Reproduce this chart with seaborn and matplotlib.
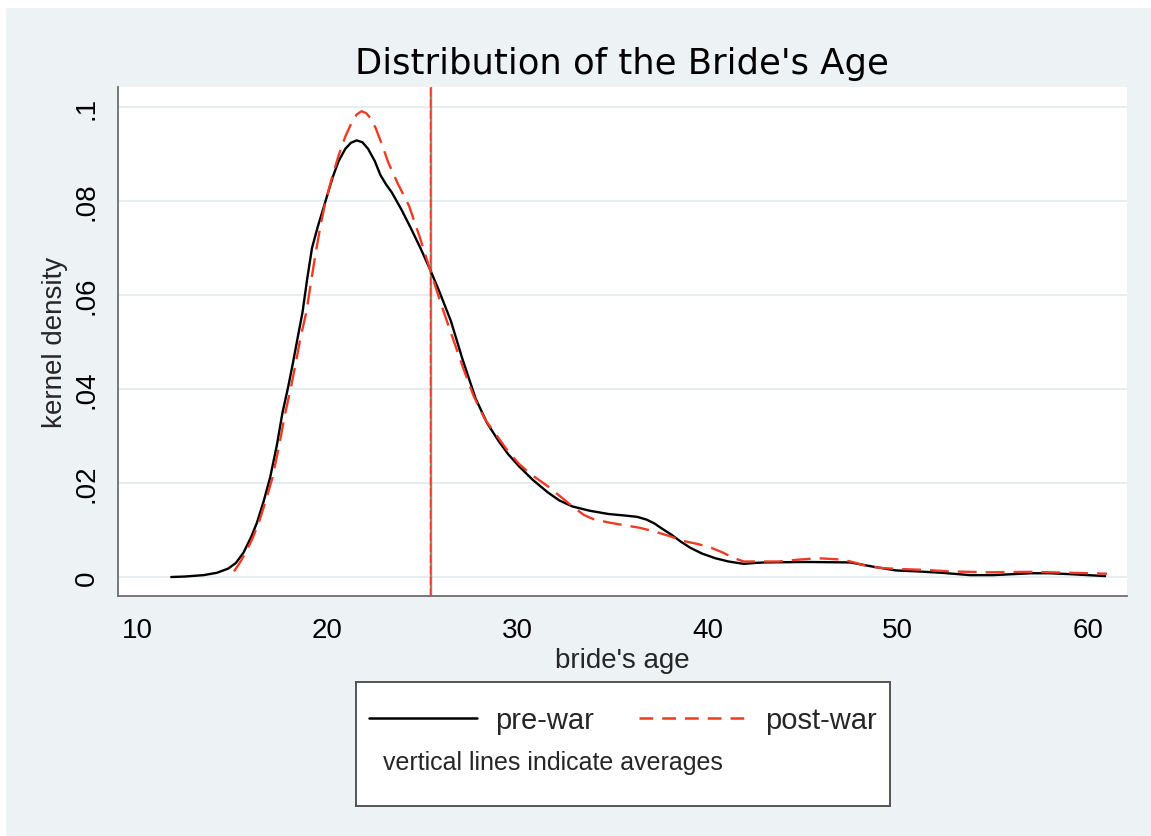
import matplotlib
matplotlib.use("Agg")
import matplotlib.pyplot as plt
from matplotlib.lines import Line2D
from matplotlib.patches import Rectangle
import pandas as pd
import seaborn as sns

# Kernel density of bride's age, pre-war cohort
pre_age = [11.8, 12.5, 13.5, 14.2, 14.8, 15.2, 15.6, 16.0, 16.3, 16.65, 17.0, 17.35,
           17.65, 17.95, 18.2, 18.45, 18.7, 18.95, 19.2, 19.5, 19.75, 20.0, 20.3, 20.6,
           20.95, 21.25, 21.55, 21.85, 22.15, 22.5, 22.8, 23.1, 23.4, 23.9, 24.4, 24.9,
           25.4, 25.9, 26.5, 27.1, 27.8, 28.4, 29.0, 29.5, 30.1, 30.8, 31.6, 32.2,
           32.9, 33.8, 34.8, 35.6, 36.3, 36.8, 37.2, 37.6, 38.1, 38.6, 39.1, 39.7,
           40.4, 41.1, 41.9, 42.5, 43.0, 45.2, 47.5, 48.7, 49.9, 51.0, 52.3, 53.8,
           55.0, 56.0, 57.0, 58.0, 59.1, 60.0, 60.9]
pre_density = [0.0, 0.0001, 0.0004, 0.0009, 0.0018, 0.003, 0.0052, 0.0085, 0.0115,
               0.016, 0.0212, 0.028, 0.035, 0.0405, 0.0456, 0.051, 0.0563, 0.0635,
               0.07, 0.0745, 0.0778, 0.0812, 0.0852, 0.0885, 0.0911, 0.0924, 0.0929,
               0.0925, 0.0911, 0.0885, 0.0855, 0.0835, 0.0818, 0.0782, 0.0742, 0.07,
               0.0655, 0.0607, 0.0545, 0.0465, 0.038, 0.0328, 0.029, 0.0262, 0.0235,
               0.0207, 0.018, 0.0163, 0.015, 0.0141, 0.0134, 0.0131, 0.0128, 0.0122,
               0.0114, 0.0103, 0.009, 0.0075, 0.0062, 0.005, 0.004, 0.0033, 0.0028,
               0.003, 0.0031, 0.0032, 0.0031, 0.0022, 0.0014, 0.0012, 0.0009, 0.0004,
               0.0004, 0.0006, 0.0008, 0.0008, 0.0006, 0.0004, 0.0002]

# Kernel density of bride's age, post-war cohort
post_age = [15.1, 15.4, 15.7, 16.05, 16.4, 16.75, 17.1, 17.45, 17.8, 18.1, 18.35, 18.6,
            18.9, 19.15, 19.4, 19.65, 19.9, 20.25, 20.6, 20.95, 21.3, 21.55, 21.8, 22.05,
            22.3, 22.55, 22.9, 23.2, 23.7, 24.3, 24.85, 25.4, 25.95, 26.5, 27.1, 27.7,
            28.3, 29.0, 29.5, 30.1, 30.8, 31.6, 32.3, 32.9, 33.5, 34.0, 34.8, 35.5,
            36.4, 37.2, 38.0, 38.7, 39.5, 40.2, 40.8, 41.4, 41.9, 43.7, 44.8, 45.8,
            47.1, 47.8, 48.4, 49.2, 50.1, 51.5, 52.7, 54.8, 57.0, 59.1, 61.0]
post_density = [0.0012, 0.003, 0.0051, 0.008, 0.0115, 0.016, 0.0208, 0.0275, 0.035,
                0.0405, 0.0456, 0.051, 0.0563, 0.0628, 0.0691, 0.0748, 0.0797, 0.085,
                0.0897, 0.0937, 0.0968, 0.0984, 0.0991, 0.0987, 0.0975, 0.0955, 0.0918,
                0.0883, 0.0838, 0.079, 0.0725, 0.0655, 0.0585, 0.052, 0.045, 0.0385,
                0.0335, 0.0296, 0.0268, 0.024, 0.0216, 0.0193, 0.017, 0.015, 0.0132,
                0.0123, 0.0116, 0.0111, 0.0105, 0.0097, 0.0087, 0.0077, 0.007, 0.0062,
                0.0052, 0.004, 0.0033, 0.0033, 0.0037, 0.004, 0.0037, 0.003, 0.0023,
                0.0019, 0.0017, 0.0015, 0.0012, 0.001, 0.0011, 0.0009, 0.0007]

# Average ages
pre_mean = 25.45
post_mean = 25.4

x_ticks = [10, 20, 30, 40, 50, 60]
y_ticks = [0.0, 0.02, 0.04, 0.06, 0.08, 0.1]
y_tick_labels = ["0", ".02", ".04", ".06", ".08", ".1"]
series_labels = ["pre-war", "post-war"]

BG = "#EDF3F5"
GRID = "#E6EEF0"
RED = "#EE3B24"
AXIS = "#6E6E6E"

sns.set_theme(style="white")
plt.rcParams["font.family"] = ["Liberation Sans", "DejaVu Sans"]

W, H = 1151, 837
fig = plt.figure(figsize=(W / 100, H / 100), dpi=100, facecolor="white")
fig.patches.append(Rectangle((6 / W, 0), 1, 1 - 9 / H, transform=fig.transFigure,
                             facecolor=BG, edgecolor="none", zorder=-10))

ax = fig.add_axes([118 / W, 1 - 597 / H, (1127 - 118) / W, (597 - 88) / H])
ax.set_facecolor("white")

df_pre = pd.DataFrame({"age": pre_age, "density": pre_density})
df_post = pd.DataFrame({"age": post_age, "density": post_density})

for y in y_ticks:
    ax.axhline(y, color=GRID, lw=1.4, zorder=0)

ax.axvline(pre_mean, color="#8A8A8A", lw=1.7, zorder=2)
ax.axvline(post_mean, color=RED, lw=1.0, dashes=(6, 2), zorder=2)

sns.lineplot(data=df_pre, x="age", y="density", ax=ax, color="black", lw=1.7,
             estimator=None, sort=False, zorder=3)
sns.lineplot(data=df_post, x="age", y="density", ax=ax, color=RED, lw=1.7,
             estimator=None, sort=False, dashes=False, zorder=4)
ax.lines[-1].set_dashes((8, 3.8))

ax.set_xlim(9.0, 62.05)
ax.set_ylim(-0.00404, 0.10426)
ax.set_xticks(x_ticks)
ax.set_xticklabels([str(t) for t in x_ticks])
ax.set_yticks(y_ticks)
ax.set_yticklabels(y_tick_labels, rotation=90, va="center")

for side in ("top", "right"):
    ax.spines[side].set_visible(False)
for side in ("left", "bottom"):
    ax.spines[side].set_color(AXIS)
    ax.spines[side].set_linewidth(1.3)

ax.tick_params(axis="both", which="major", direction="out", length=7, width=1.3,
               color=AXIS, labelsize=20, labelcolor="black")
ax.tick_params(axis="x", pad=8)
ax.tick_params(axis="y", pad=6)
ax.grid(False)

ax.set_xlabel("bride's age", fontsize=20, labelpad=3)
ax.set_ylabel("kernel density", fontsize=20, labelpad=4)

fig.text(622 / W, 1 - 74 / H, "Distribution of the Bride's Age",
         ha="center", va="baseline", fontsize=25.5, color="black",
         family=["DejaVu Sans"])

# Legend panel
lax = fig.add_axes([356 / W, 1 - 807 / H, (890 - 356) / W, (807 - 683) / H])
lax.set_facecolor("white")
lax.set_xticks([])
lax.set_yticks([])
for s in lax.spines.values():
    s.set_color("#555555")
    s.set_linewidth(1.4)

handles = [Line2D([], [], color="black", lw=1.8),
           Line2D([], [], color=RED, lw=1.8, dashes=(5.5, 3.6))]
lax.legend(handles, series_labels, ncol=2, loc="center left",
           bbox_to_anchor=(0.025, 0.69), frameon=False, fontsize=21,
           handlelength=3.7, handletextpad=0.62, columnspacing=1.55,
           borderaxespad=0, borderpad=0)
lax.text(27 / 534, 0.355, "vertical lines indicate averages", fontsize=18,
         ha="left", va="center", transform=lax.transAxes)

fig.savefig("out.png", dpi=100, facecolor="white")
